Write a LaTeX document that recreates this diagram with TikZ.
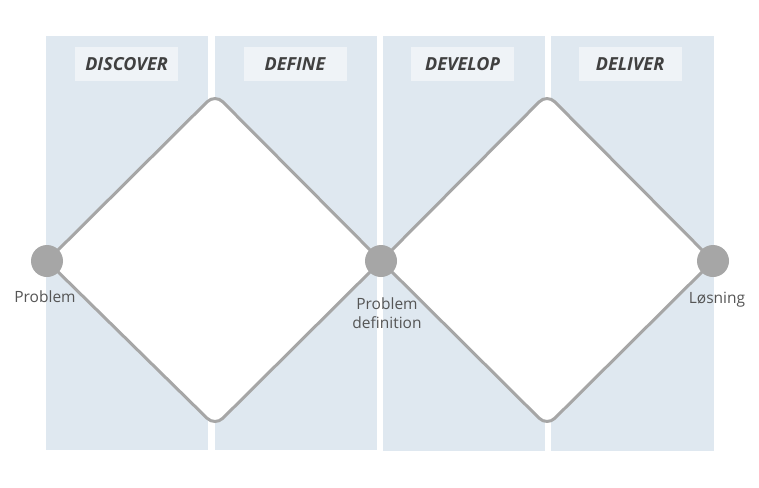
\documentclass[tikz,border=0pt]{standalone}
\usepackage{fontspec}
\setmainfont{Open Sans}
\begin{document}
\begin{tikzpicture}[x=1pt,y=-1pt,
  colbox/.style={fill=colblue,draw=none},
  headbox/.style={fill=headfill,draw=none,minimum width=103pt,minimum height=34pt,inner sep=0pt,
    font=\fontsize{18}{21}\selectfont\bfseries\itshape,text=headtext},
  dline/.style={draw=linegray,line width=3pt,rounded corners=11pt,fill=white},
  dot/.style={circle,fill=linegray,draw=none,minimum size=32pt,inner sep=0pt},
  lab/.style={font=\fontsize{15.5}{19}\selectfont,text=labtext,align=center,inner sep=0pt}]
\definecolor{colblue}{HTML}{DFE8F0}
\definecolor{headfill}{HTML}{EFF3F7}
\definecolor{headtext}{HTML}{404040}
\definecolor{linegray}{HTML}{A6A6A6}
\definecolor{labtext}{HTML}{555555}
\useasboundingbox[fill=white] (0,0) rectangle (759,487);
% columns
\fill[colbox] (46,36) rectangle (208,450);
\fill[colbox] (215,36) rectangle (377,450);
\fill[colbox] (383,36) rectangle (545,451);
\fill[colbox] (551,36) rectangle (714,451);
% headers
\node[headbox] (h1) at (126.5,64) {DISCOVER};
\node[headbox] (h2) at (295,64) {DEFINE};
\node[headbox] (h3) at (462.5,64) {DEVELOP};
\node[headbox] (h4) at (630,64) {DELIVER};
% diamond corners
\coordinate (p1) at (47,261);
\coordinate (p2) at (381,261);
\coordinate (p3) at (713,261);
\coordinate (t1) at (215,94);
\coordinate (b1) at (215,426);
\coordinate (t2) at (547,94);
\coordinate (b2) at (547,426);
\draw[dline] (p1) -- (t1) -- (p2) -- (b1) -- cycle;
\draw[dline] (p2) -- (t2) -- (p3) -- (b2) -- cycle;
% dots
\node[dot] (c1) at (p1) {};
\node[dot] (c2) at (p2) {};
\node[dot] (c3) at (p3) {};
% labels
\node[lab] (l1) at (45,297) {Problem};
\node[lab] (l2) at (387,313) {Problem\\definition};
\node[lab] (l3) at (717,300) {Løsning};
\end{tikzpicture}
\end{document}
